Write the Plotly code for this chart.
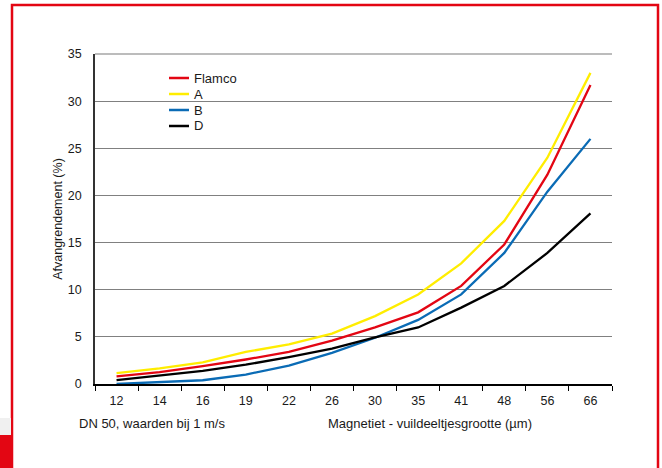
import plotly.graph_objects as go

categories = ["12", "14", "16", "19", "22", "26", "30", "35", "41", "48", "56", "66"]
flamco = [0.8, 1.25, 1.9, 2.6, 3.4, 4.6, 6.0, 7.6, 10.4, 14.8, 22.2, 31.7]
serie_a = [1.15, 1.65, 2.3, 3.4, 4.2, 5.35, 7.2, 9.5, 12.8, 17.3, 24.0, 33.0]
serie_b = [0.0, 0.2, 0.4, 1.0, 1.95, 3.3, 4.9, 6.8, 9.5, 13.9, 20.4, 26.0]
serie_d = [0.4, 0.9, 1.4, 2.05, 2.85, 3.75, 4.95, 6.0, 8.1, 10.4, 13.9, 18.1]

series_names = ["Flamco", "A", "B", "D"]
series_values = [flamco, serie_a, serie_b, serie_d]
series_colors = ["#e30613", "#ffed00", "#0a6bb5", "#000000"]

W, H = 662, 468
L, R, T, B = 95, 50, 54, 84
pw, ph = W - L - R, H - T - B

def px(x):
    return (x - L) / pw

def py(y):
    return (H - B - y) / ph

fig = go.Figure()
for name, vals, col in zip(series_names, series_values, series_colors):
    fig.add_trace(go.Scatter(x=categories, y=vals, name=name, mode="lines",
                             line=dict(color=col, width=2.3), showlegend=False))

FAM = "Liberation Sans, Arial, Helvetica, sans-serif"
tickfont = dict(family=FAM, size=12.5, color="#1a1a1a")
textfont = dict(family=FAM, size=13, color="#1a1a1a")

shapes = [
    # red frame
    dict(type="rect", xref="paper", yref="paper", x0=px(12), x1=px(658), y0=py(490), y1=py(5),
         line=dict(color="#e30613", width=2.5), fillcolor="rgba(0,0,0,0)", layer="above"),
    # faint shadow left of frame
    dict(type="rect", xref="paper", yref="paper", x0=px(-2), x1=px(11), y0=py(435), y1=py(418),
         line=dict(width=0), fillcolor="#f0f0f0", layer="above"),
    # red block bottom-left
    dict(type="rect", xref="paper", yref="paper", x0=px(-2), x1=px(12), y0=py(470), y1=py(435),
         line=dict(width=0), fillcolor="#e30613", layer="above"),
    # legend mask over gridline
    dict(type="rect", xref="paper", yref="paper", x0=px(142), x1=px(294), y0=py(135), y1=py(68),
         line=dict(width=0), fillcolor="white", layer="between"),
    # top gridline (35)
    dict(type="line", xref="paper", yref="paper", x0=0, x1=1, y0=1, y1=1,
         line=dict(color="#a6a6a6", width=1.5), layer="below"),
]

annotations = [
    dict(text="DN 50, waarden bij 1 m/s", xref="paper", yref="paper", x=px(77), y=py(423),
         xanchor="left", yanchor="middle", showarrow=False, font=textfont),
    dict(text="Magnetiet - vuildeeltjesgrootte (µm)", xref="paper", yref="paper", x=px(326), y=py(423),
         xanchor="left", yanchor="middle", showarrow=False, font=textfont),
]

# legend (line samples + labels)
for i, (name, col) in enumerate(zip(series_names, series_colors)):
    ly = 78 + 16 * i
    shapes.append(dict(type="line", xref="paper", yref="paper", x0=px(169), x1=px(189),
                       y0=py(ly), y1=py(ly), line=dict(color=col, width=2.5), layer="above"))
    annotations.append(dict(text=name, xref="paper", yref="paper", x=px(192), y=py(ly),
                            xanchor="left", yanchor="middle", showarrow=False, font=textfont))

fig.update_layout(
    width=W, height=H,
    margin=dict(l=L, r=R, t=T, b=B, autoexpand=False),
    paper_bgcolor="white", plot_bgcolor="white",
    font=tickfont,
    showlegend=False,
    shapes=shapes,
    annotations=annotations,
)

fig.update_xaxes(type="category", range=[-0.5, 11.5], showgrid=False, showline=True,
                 linecolor="black", linewidth=1.5, ticks="outside", tickson="boundaries",
                 ticklen=5, tickcolor="black", tickfont=tickfont, zeroline=False, automargin=False,
                 ticklabelstandoff=4)
fig.update_yaxes(range=[0, 35], tickvals=[0, 5, 10, 15, 20, 25, 30, 35], showgrid=True,
                 gridcolor="#808080", gridwidth=1, showline=True, linecolor="#333333", linewidth=1.5,
                 ticks="", ticklabelstandoff=9, tickfont=tickfont, zeroline=False, automargin=False,
                 title=dict(text="Afvangrendement (%)", font=tickfont, standoff=2))

fig.write_html("out.html", config={"displayModeBar": False},
               post_script="document.body.style.margin='0';document.body.style.overflow='hidden';")
